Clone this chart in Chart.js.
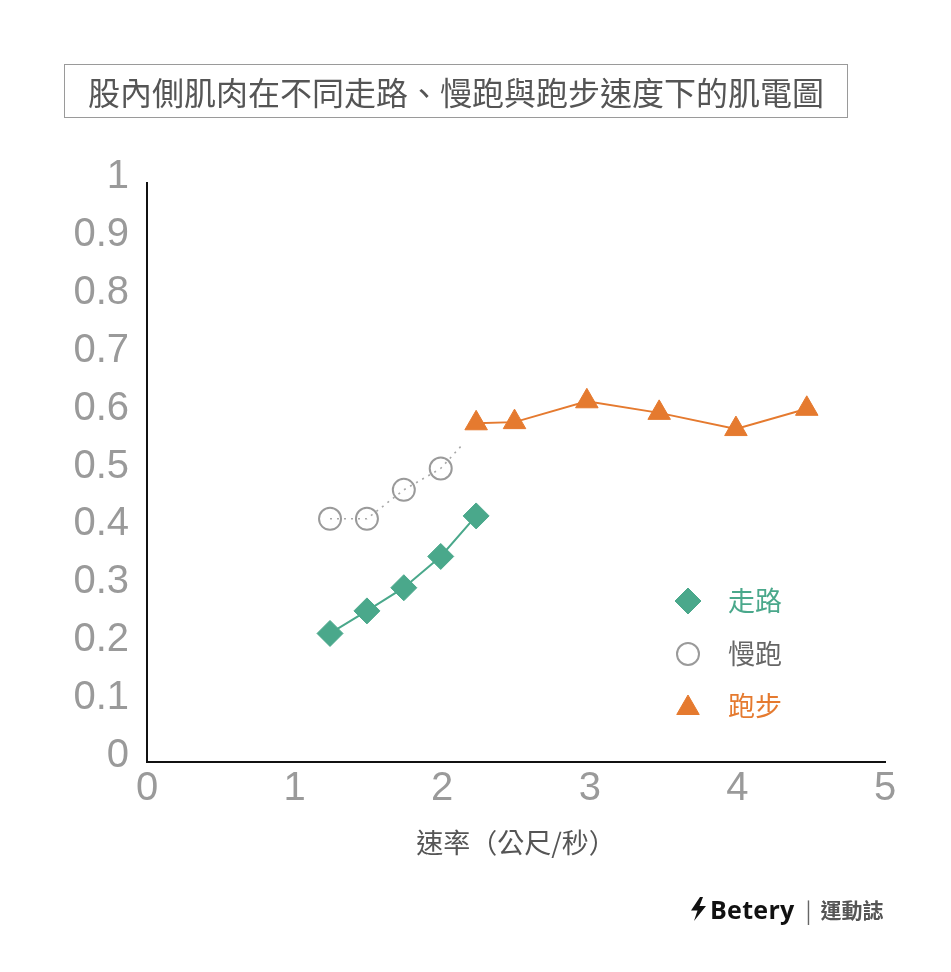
<!DOCTYPE html>
<html>
<head>
<meta charset="utf-8">
<script src="https://cdn.jsdelivr.net/npm/chart.js@4.4.1/dist/chart.umd.min.js"></script>
<style>
  html, body { margin: 0; padding: 0; background: #fff; }
  #wrap { position: relative; width: 951px; height: 972px; }
  #chart { position: absolute; left: 0; top: 0; }
  #title {
    position: absolute; left: 64px; top: 64px; width: 784px; height: 54px;
    box-sizing: border-box; border: 1px solid #9a9a9a;
    font: 32px "Noto Sans CJK TC", sans-serif; color: #555;
    text-align: center; line-height: 52px;
  }
  #brand {
    position: absolute; left: 690px; top: 893px; height: 32px;
    display: flex; align-items: center; white-space: nowrap;
  }
  #brand .name { font: bold 25px "Open Sans", sans-serif; color: #111; margin-left: 3px; letter-spacing: 0.3px; }
  #brand .bar { font: 22px "Noto Sans CJK TC", sans-serif; color: #666; margin: 0 9px 0 11px; }
  #brand .mag { font: bold 21px "Noto Sans CJK TC", sans-serif; color: #555; }
</style>
</head>
<body>
<div id="wrap">
  <canvas id="chart" width="951" height="972"></canvas>
  <div id="title">股內側肌肉在不同走路、慢跑與跑步速度下的肌電圖</div>
  <div id="brand">
    <svg width="17" height="24" viewBox="0 0 17 24"><polygon points="10,0 1,13.5 7.5,13.5 4,24 16,9 9.5,9 13,0" fill="#111"/></svg>
    <span class="name">Betery</span><span class="bar">|</span><span class="mag">運動誌</span>
  </div>
</div>
<script>
// speed (m/s) and EMG values
const walkSpeed = [1.24, 1.49, 1.74, 1.99, 2.23];
const walkEmg = [0.222, 0.261, 0.301, 0.355, 0.425];

// last jog point is the dotted line's tail, no marker
const jogSpeed = [1.24, 1.49, 1.74, 1.99, 2.14];
const jogEmg = [0.42, 0.42, 0.47, 0.507, 0.549];

const runSpeed = [2.23, 2.49, 2.98, 3.47, 3.99, 4.47];
const runEmg = [0.585, 0.587, 0.623, 0.603, 0.575, 0.61];

const seriesNames = ["走路", "慢跑", "跑步"];
const xTitle = "速率（公尺/秒）";

const GREEN = "#4aa88b";
const GREY = "#9a9a9a";
const ORANGE = "#e57a2f";

function toPoints(xs, ys) {
  return xs.map((x, i) => ({ x: x, y: ys[i] }));
}

// legend drawn inside the plot area
const insideLegend = {
  id: "insideLegend",
  afterDraw(chart) {
    const ctx = chart.ctx;
    const items = [
      { style: "rectRot", radius: 13, fill: GREEN, stroke: GREEN, text: GREEN },
      { style: "circle", radius: 11, fill: "rgba(0,0,0,0)", stroke: GREY, text: "#666" },
      { style: "triangle", radius: 13, fill: ORANGE, stroke: ORANGE, text: ORANGE },
    ];
    const rows = [601, 654, 706];
    items.forEach((it, i) => {
      ctx.save();
      ctx.fillStyle = it.fill;
      ctx.strokeStyle = it.stroke;
      ctx.lineWidth = it.style === "circle" ? 2 : 1;
      Chart.helpers.drawPoint(ctx, { pointStyle: it.style, radius: it.radius, rotation: 0, borderWidth: ctx.lineWidth }, 688, rows[i] + (it.style === "triangle" ? 2 : 0));
      ctx.font = '27px "Noto Sans CJK TC", sans-serif';
      ctx.fillStyle = it.text;
      ctx.textBaseline = "middle";
      ctx.textAlign = "left";
      ctx.fillText(seriesNames[i], 728, rows[i]);
      ctx.restore();
    });
  },
};

new Chart(document.getElementById("chart"), {
  type: "scatter",
  data: {
    datasets: [
      {
        label: seriesNames[2],
        data: toPoints(runSpeed, runEmg),
        showLine: true,
        borderColor: ORANGE,
        borderWidth: 2,
        backgroundColor: ORANGE,
        pointStyle: "triangle",
        pointRadius: 13,
        pointBorderWidth: 1,
        tension: 0,
      },
      {
        label: seriesNames[1],
        data: toPoints(jogSpeed, jogEmg),
        showLine: true,
        borderColor: "#a8a8a8",
        borderWidth: 1.6,
        borderDash: [2, 5],
        backgroundColor: "rgba(0,0,0,0)",
        pointBorderColor: GREY,
        pointStyle: "circle",
        pointRadius: [11, 11, 11, 11, 0],
        pointBorderWidth: 2,
        tension: 0,
      },
      {
        label: seriesNames[0],
        data: toPoints(walkSpeed, walkEmg),
        showLine: true,
        borderColor: GREEN,
        borderWidth: 2,
        backgroundColor: GREEN,
        pointStyle: "rectRot",
        pointRadius: 13,
        pointBorderWidth: 1,
        tension: 0,
      },
    ],
  },
  options: {
    responsive: false,
    animation: false,
    layout: { padding: { left: 0, top: 183, right: 66, bottom: 90 } },
    plugins: { legend: { display: false }, tooltip: { enabled: false } },
    scales: {
      x: {
        type: "linear",
        min: 0,
        max: 5,
        grid: { display: false },
        border: { display: true, color: "#111", width: 2 },
        ticks: {
          stepSize: 1,
          padding: -5,
          color: "#9a9a9a",
          font: { family: "Liberation Sans", size: 40 },
        },
        title: {
          display: true,
          text: xTitle,
          color: "#555",
          padding: { top: 0, bottom: 23 },
          font: { family: "Noto Sans CJK TC", size: 27 },
        },
        afterFit(scale) { scale.height = 120; },
      },
      y: {
        min: 0,
        max: 1,
        grid: { display: false },
        border: { display: true, color: "#111", width: 2 },
        ticks: {
          stepSize: 0.1,
          padding: 10,
          labelOffset: -6,
          color: "#9a9a9a",
          font: { family: "Liberation Sans", size: 40 },
          callback: (v) => String(+v.toFixed(1)),
        },
        afterFit(scale) { scale.width = 147; },
      },
    },
  },
  plugins: [insideLegend],
});
</script>
</body>
</html>
